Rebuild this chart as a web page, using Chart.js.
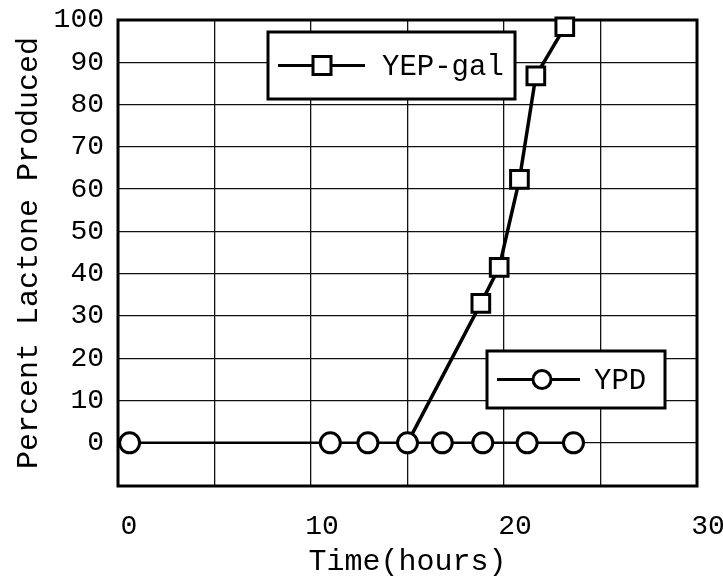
<!DOCTYPE html>
<html>
<head>
<title>Percent Lactone Produced</title>
<script src="https://cdn.jsdelivr.net/npm/chart.js"></script>
<style>
  body { margin: 0; background: #fff; }
</style>
</head>
<body>
<canvas id="myChart" width="723" height="580"></canvas>
<script>
  // YPD culture (circles) and YEP-galactose culture (squares)
  const ypdHours = [0, 10.4, 12.35, 14.4, 16.2, 18.3, 20.6, 23.0];
  const ypdPercent = [0, 0, 0, 0, 0, 0, 0, 0];
  const galHours = [14.4, 18.2, 19.15, 20.2, 21.05, 22.55];
  const galPercent = [0, 33, 41.5, 62.3, 86.8, 98.4];

  const xLabels = [0, 10, 20, 30];
  const yTicks = [0, 10, 20, 30, 40, 50, 60, 70, 80, 90, 100];

  // the printed grid sits a little left of the hour labels
  const gridShift = 0.6;
  const xMin = -gridShift, xMax = 30 - gridShift;
  const yMin = -10.2, yMax = 100;

  const mono = 'Liberation Mono';
  const ink = '#000';

  const toPoints = (xs, ys) => xs.map((x, i) => ({ x: x, y: ys[i] }));

  const frame = {
    id: 'frame',
    beforeDatasetsDraw(chart) {
      const { ctx, chartArea: a } = chart;
      ctx.save();
      ctx.strokeStyle = ink;
      ctx.lineWidth = 3;
      ctx.strokeRect(a.left, a.top, a.right - a.left, a.bottom - a.top);
      ctx.restore();
    }
  };

  // two boxed keys, one per series
  function drawKey(ctx, box, label, marker) {
    ctx.save();
    ctx.fillStyle = '#fff';
    ctx.fillRect(box.x, box.y, box.w, box.h);
    ctx.strokeStyle = ink;
    ctx.lineWidth = 3;
    ctx.strokeRect(box.x, box.y, box.w, box.h);
    const cy = box.y + box.h / 2;
    ctx.beginPath();
    ctx.moveTo(box.x + 10, cy);
    ctx.lineTo(box.x + box.lineLen, cy);
    ctx.stroke();
    const mx = box.x + box.markX;
    ctx.fillStyle = '#fff';
    ctx.beginPath();
    if (marker === 'rect') {
      ctx.rect(mx - 9, cy - 9, 18, 18);
    } else {
      ctx.arc(mx, cy, 9, 0, Math.PI * 2);
    }
    ctx.fill();
    ctx.stroke();
    ctx.fillStyle = ink;
    ctx.font = '29px "' + mono + '"';
    ctx.textBaseline = 'middle';
    ctx.fillText(label, box.x + box.textX, cy + 2);
    ctx.restore();
  }

  const keys = {
    id: 'keys',
    afterDatasetsDraw(chart) {
      const { ctx, chartArea: a } = chart;
      drawKey(ctx, { x: a.left + 150, y: a.top + 12, w: 247, h: 67, lineLen: 97, markX: 54, textX: 114 }, 'YEP-gal', 'rect');
      drawKey(ctx, { x: a.left + 369, y: a.top + 331, w: 178, h: 57, lineLen: 93, markX: 55, textX: 107 }, 'YPD', 'circle');
    }
  };

  new Chart(document.getElementById('myChart'), {
    type: 'scatter',
    data: {
      datasets: [{
        label: 'YPD',
        data: toPoints(ypdHours, ypdPercent),
        showLine: true,
        borderColor: ink,
        borderWidth: 2.5,
        pointStyle: 'circle',
        pointRadius: 10,
        pointBorderWidth: 3,
        pointBackgroundColor: '#fff',
        pointBorderColor: ink,
        clip: false
      }, {
        label: 'YEP-gal',
        data: toPoints(galHours, galPercent),
        showLine: true,
        borderColor: ink,
        borderWidth: 3.5,
        pointStyle: 'rect',
        pointRadius: c => c.dataIndex === 0 ? 0 : 12.5,
        pointBorderWidth: 3,
        pointBackgroundColor: '#fff',
        pointBorderColor: ink,
        clip: false
      }]
    },
    options: {
      responsive: false,
      animation: false,
      devicePixelRatio: 1,
      layout: { padding: { top: 20, right: 26, left: 0, bottom: 0 } },
      plugins: {
        legend: { display: false },
        tooltip: { enabled: false }
      },
      scales: {
        x: {
          type: 'linear',
          min: xMin,
          max: xMax,
          afterBuildTicks: s => {
            s.ticks = [];
            for (let v = xMin; v <= xMax + 0.01; v += 5) s.ticks.push({ value: v });
          },
          afterFit: s => { s.height = 94; s.paddingLeft = 0; s.paddingRight = 0; },
          border: { display: false },
          grid: { color: '#111', lineWidth: 1.3, drawTicks: false },
          ticks: {
            autoSkip: false,
            maxRotation: 0,
            padding: 24,
            labelOffset: 11,
            color: ink,
            font: { family: mono, size: 28 },
            callback: v => {
              const h = Math.round(v + gridShift);
              return xLabels.includes(h) ? String(h) : '';
            }
          },
          title: {
            display: true,
            text: 'Time(hours)',
            color: ink,
            font: { family: mono, size: 30 },
            padding: { top: 0, bottom: 0 }
          }
        },
        y: {
          type: 'linear',
          min: yMin,
          max: yMax,
          afterBuildTicks: s => { s.ticks = yTicks.map(v => ({ value: v })); },
          afterFit: s => { s.width = 118; s.paddingTop = 0; s.paddingBottom = 0; },
          border: { display: false },
          grid: { color: '#111', lineWidth: 1.3, drawTicks: false },
          ticks: {
            padding: 14,
            color: ink,
            font: { family: mono, size: 28 }
          },
          title: {
            display: true,
            text: 'Percent Lactone Produced',
            color: ink,
            font: { family: mono, size: 30 },
            padding: { top: 11, bottom: 0 }
          }
        }
      }
    },
    plugins: [frame, keys]
  });
</script>
</body>
</html>
